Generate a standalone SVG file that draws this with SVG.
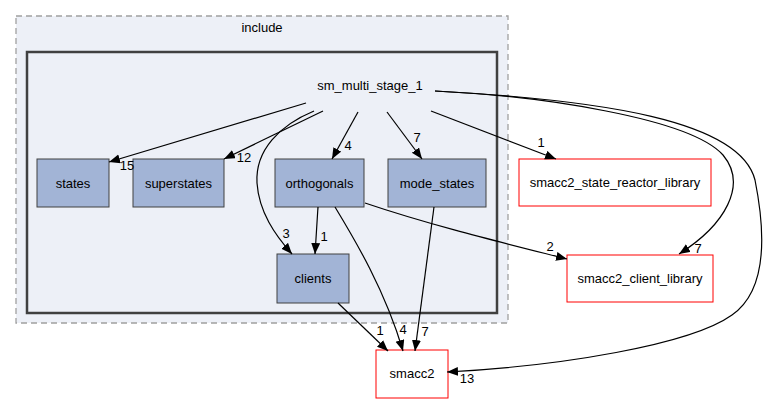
<svg xmlns="http://www.w3.org/2000/svg" width="765" height="404" viewBox="0 0 765 404">
<style>
text{font-family:"Liberation Sans",Arial,sans-serif;font-size:13px;fill:#000}
.c{text-anchor:middle}
.dir rect{fill:#a2b4d6;stroke:#404040;stroke-width:1}
.ext rect{fill:#fff;stroke:#ff0000;stroke-width:1}
.e path{fill:none;stroke:#000;stroke-width:1.2;marker-end:url(#ah)}
.lbl{font-size:13px}
</style>
<defs>
<marker id="ah" markerUnits="userSpaceOnUse" markerWidth="12" markerHeight="10" refX="11" refY="4.5" orient="auto">
<path d="M0,0 L11,4.5 L0,9 Z" fill="#000"/>
</marker>
</defs>
<rect width="765" height="404" fill="#fff"/>
<g id="cluster_include">
<rect x="16" y="16" width="492" height="307" fill="#edf0f7" stroke="#a0a0a0" stroke-width="1.3" stroke-dasharray="6,4"/>
<text class="c" x="262" y="32">include</text>
</g>
<g id="cluster_sm_multi_stage_1">
<rect x="27" y="52" width="470" height="261" fill="#edf0f7" stroke="#404040" stroke-width="2.5"/>
<text class="c" x="370" y="90">sm_multi_stage_1</text>
</g>
<g id="states" class="dir"><rect x="37" y="159" width="72" height="48"/><text class="c" x="73" y="188">states</text></g>
<g id="superstates" class="dir"><rect x="133" y="159" width="91" height="48"/><text class="c" x="178.5" y="188">superstates</text></g>
<g id="orthogonals" class="dir"><rect x="275" y="159" width="89" height="48"/><text class="c" x="319.5" y="188">orthogonals</text></g>
<g id="mode_states" class="dir"><rect x="388" y="159" width="98" height="48"/><text class="c" x="437" y="188">mode_states</text></g>
<g id="clients" class="dir"><rect x="277" y="254" width="72" height="49"/><text class="c" x="313" y="283">clients</text></g>
<g id="smacc2_state_reactor_library" class="ext"><rect x="519" y="159" width="192" height="47"/><text class="c" x="615" y="187">smacc2_state_reactor_library</text></g>
<g id="smacc2_client_library" class="ext"><rect x="567" y="255" width="146" height="47"/><text class="c" x="640" y="283">smacc2_client_library</text></g>
<g id="smacc2" class="ext"><rect x="376" y="350" width="72" height="48"/><text class="c" x="412" y="378">smacc2</text></g>
<g id="edges" class="e">
<path d="M306,103 L109,162"/>
<text class="lbl c" x="127" y="170">15</text>
<path d="M323,111 L224,159"/>
<text class="lbl c" x="244" y="162">12</text>
<path d="M314,111 C280,125 255,150 257,183 C259,212 275,235 292,254"/>
<text class="lbl c" x="286" y="238">3</text>
<path d="M358,112 L332,159"/>
<text class="lbl c" x="348" y="150">4</text>
<path d="M387,112 L422,159"/>
<text class="lbl c" x="417" y="142">7</text>
<path d="M431,111 L556,159"/>
<text class="lbl c" x="541" y="147">1</text>
<path d="M435,91 C540,96 690,118 723,155 C748,185 725,225 679,254"/>
<text class="lbl c" x="698" y="253">7</text>
<path d="M435,91 C600,100 740,120 755,180 C765,230 768,290 732,315 C690,345 560,366 447,372"/>
<text class="lbl c" x="467" y="383">13</text>
<path d="M318,207 L315,254"/>
<text class="lbl c" x="324" y="241">1</text>
<path d="M335,207 C355,240 385,290 403,351"/>
<text class="lbl c" x="403" y="334">4</text>
<path d="M365,203 C430,225 500,242 567,259"/>
<text class="lbl c" x="550" y="251">2</text>
<path d="M434,207 L415,351"/>
<text class="lbl c" x="425" y="336">7</text>
<path d="M338,303 L388,351"/>
<text class="lbl c" x="380" y="335">1</text>
</g>
</svg>
